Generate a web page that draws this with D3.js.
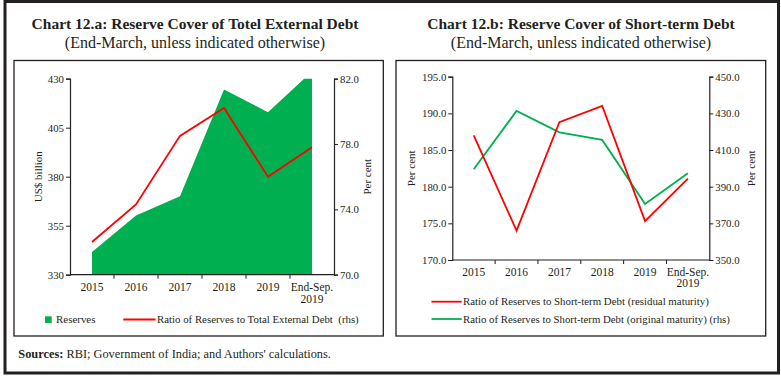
<!DOCTYPE html>
<html><head><meta charset="utf-8">
<script src="https://cdn.jsdelivr.net/npm/d3@7"></script>
<style>
html,body{margin:0;padding:0;background:#fff;}
svg text{font-family:"Liberation Serif","Times New Roman",serif;fill:#231f20;}
</style></head>
<body><svg id="c" width="781" height="381"></svg>
<script>
const categories = ["2015","2016","2017","2018","2019","End-Sep. 2019"];
const reserves = [341.6, 360.2, 370.0, 424.5, 412.9, 433.7];
const ratioTotal = [72.0, 74.3, 78.5, 80.2, 76.0, 77.8];
const residualRatio = [187.0, 174.0, 188.8, 191.0, 175.3, 181.1];
const originalRatio = [399.5, 431.3, 419.6, 415.5, 380.5, 397.3];
const leftTicksA = [330, 355, 380, 405, 430];
const rightTicksA = [70, 74, 78, 82];
const leftTicksB = [170, 175, 180, 185, 190, 195];
const rightTicksB = [350, 370, 390, 410, 430, 450];

const GREEN = "#00b050", RED = "#ff0000", INK = "#231f20";
const svg = d3.select("#c");

// fit a text's font size so that it spans a target width
function fit(sel, target, base){
  sel.attr("font-size", base);
  const w = sel.node().getComputedTextLength();
  if (w > 0) sel.attr("font-size", Math.min(base*1.2, base*target/w));
  return sel;
}

// outer frame
svg.append("rect").attr("x",5).attr("y",1.5).attr("width",773.5).attr("height",371.5)
  .attr("fill","none").attr("stroke",INK).attr("stroke-width",3);

// titles
function title(cx, t1, t2){
  svg.append("text").attr("x",cx).attr("y",29).attr("text-anchor","middle")
    .attr("font-size",15.5).attr("font-weight","bold").text(t1);
  svg.append("text").attr("x",cx).attr("y",48.3).attr("text-anchor","middle")
    .attr("font-size",16).text(t2);
}
title(195, "Chart 12.a: Reserve Cover of Totel External Debt", "(End-March, unless indicated otherwise)");
title(581, "Chart 12.b: Reserve Cover of Short-term Debt", "(End-March, unless indicated otherwise)");

// panel boxes
svg.append("rect").attr("x",14).attr("y",60.5).attr("width",369.3).attr("height",275.5)
  .attr("fill","none").attr("stroke",INK).attr("stroke-width",1.3);
svg.append("rect").attr("x",396).attr("y",60.5).attr("width",369.7).attr("height",275.5)
  .attr("fill","none").attr("stroke",INK).attr("stroke-width",1.3);

// footer
const ft = svg.append("text").attr("x",18.3).attr("y",358.3);
ft.append("tspan").attr("font-weight","bold").text("Sources:");
ft.append("tspan").text(" RBI; Government of India; and Authors' calculations.");
fit(ft, 313, 12);

function xAxis(g, x, yPos, labelDy){
  const [r0, r1] = x.range();
  g.append("line").attr("x1",r0).attr("x2",r1).attr("y1",yPos).attr("y2",yPos)
    .attr("stroke",INK).attr("stroke-width",1.2);
  categories.forEach((c,i)=>{
    if(i>0){
      const bx = x(c);
      g.append("line").attr("x1",bx).attr("x2",bx).attr("y1",yPos).attr("y2",yPos+4)
        .attr("stroke",INK).attr("stroke-width",1);
    }
    const cx = x(c) + x.bandwidth()/2;
    const parts = c === "End-Sep. 2019" ? ["End-Sep.","2019"] : [c];
    const t = g.append("text").attr("x",cx).attr("y",yPos+labelDy).attr("text-anchor","middle").attr("font-size",11.5);
    parts.forEach((p,j)=> t.append("tspan").attr("x",cx).attr("dy", j===0?0:11.7).text(p));
  });
}

function yAxis(g, scale, ticks, xPos, side, fmt){
  const ax = (side==="left"? d3.axisLeft(scale) : d3.axisRight(scale))
    .tickValues(ticks).tickSize(4).tickPadding(2).tickFormat(fmt);
  const a = g.append("g").attr("transform",`translate(${xPos},0)`).call(ax);
  a.select(".domain").attr("stroke",INK).attr("stroke-width",1.2);
  a.selectAll(".tick line").attr("stroke",INK);
  a.selectAll(".tick text").attr("font-size",10.8)
    .attr("font-family",'"Liberation Serif","Times New Roman",serif').attr("fill",INK);
}

function yTitle(g, x, y, txt){
  g.append("text").attr("transform",`translate(${x},${y}) rotate(-90)`)
    .attr("text-anchor","middle").attr("font-size",11).text(txt);
}

// ---------- Chart A ----------
{
  const g = svg.append("g");
  const x = d3.scaleBand().domain(categories).range([70,334]).padding(0);
  const yL = d3.scaleLinear().domain([330,430]).range([274.7,78.7]);
  const yR = d3.scaleLinear().domain([70,82]).range([274.7,78.7]);
  const cx = c => x(c) + x.bandwidth()/2;

  svg.append("clipPath").attr("id","clipA").append("rect")
    .attr("x",70).attr("y",78.7).attr("width",264).attr("height",196);

  const area = d3.area().x((d,i)=>cx(categories[i])).y0(yL(330)).y1(d=>yL(d));
  g.append("path").datum(reserves).attr("d",area).attr("fill",GREEN).attr("clip-path","url(#clipA)");

  const line = d3.line().x((d,i)=>cx(categories[i])).y(d=>yR(d));
  g.append("path").datum(ratioTotal).attr("d",line).attr("fill","none")
    .attr("stroke",RED).attr("stroke-width",1.8);

  yAxis(g, yL, leftTicksA, 70, "left", d3.format("d"));
  yAxis(g, yR, rightTicksA, 334, "right", d3.format(".1f"));
  xAxis(g, x, 274.7, 16.3);
  yTitle(g, 41.5, 176.7, "US$ billion");
  yTitle(g, 371, 176.7, "Per cent");

  // legend
  g.append("rect").attr("x",45).attr("y",316.3).attr("width",6.7).attr("height",6.7).attr("fill",GREEN);
  fit(g.append("text").attr("x",56).attr("y",322.5).text("Reserves"), 39.5, 11.5);
  g.append("line").attr("x1",123.3).attr("x2",155.5).attr("y1",319.5).attr("y2",319.5)
    .attr("stroke",RED).attr("stroke-width",1.8);
  fit(g.append("text").attr("x",157).attr("y",322.5)
    .style("white-space","pre").text("Ratio of Reserves to Total External Debt  (rhs)"), 202, 11.5);
}

// ---------- Chart B ----------
{
  const g = svg.append("g");
  const x = d3.scaleBand().domain(categories).range([452.3,709.3]).padding(0);
  const yL = d3.scaleLinear().domain([170,195]).range([260,76.7]);
  const yR = d3.scaleLinear().domain([350,450]).range([260,76.7]);
  const cx = c => x(c) + x.bandwidth()/2;

  const lineL = d3.line().x((d,i)=>cx(categories[i])).y(d=>yL(d));
  const lineR = d3.line().x((d,i)=>cx(categories[i])).y(d=>yR(d));
  g.append("path").datum(originalRatio).attr("d",lineR).attr("fill","none")
    .attr("stroke",GREEN).attr("stroke-width",1.8);
  g.append("path").datum(residualRatio).attr("d",lineL).attr("fill","none")
    .attr("stroke",RED).attr("stroke-width",1.8);

  yAxis(g, yL, leftTicksB, 452.3, "left", d3.format(".1f"));
  yAxis(g, yR, rightTicksB, 709.3, "right", d3.format(".1f"));
  xAxis(g, x, 260, 15.7);
  yTitle(g, 415, 168.3, "Per cent");
  yTitle(g, 755, 168.3, "Per cent");

  g.append("line").attr("x1",431.5).attr("x2",461.7).attr("y1",301.7).attr("y2",301.7)
    .attr("stroke",RED).attr("stroke-width",1.8);
  fit(g.append("text").attr("x",463).attr("y",305.2)
    .text("Ratio of Reserves to Short-term Debt (residual maturity)"), 246, 11.5);
  g.append("line").attr("x1",431.5).attr("x2",461.7).attr("y1",319).attr("y2",319)
    .attr("stroke",GREEN).attr("stroke-width",1.8);
  fit(g.append("text").attr("x",463).attr("y",322.5)
    .text("Ratio of Reserves to Short-term Debt (original maturity) (rhs)"), 267, 11.5);
}
</script></body></html>
